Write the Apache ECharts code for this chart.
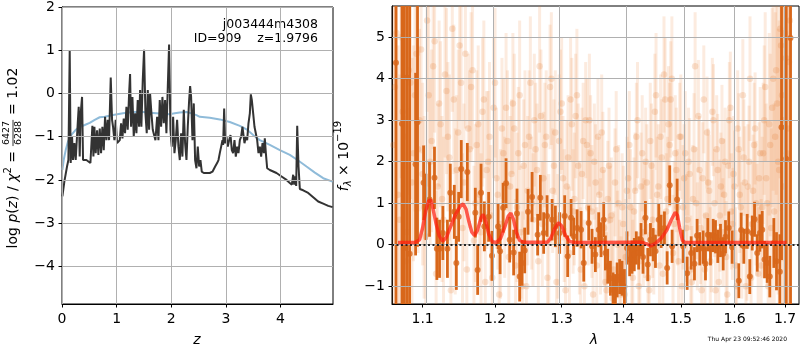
<!DOCTYPE html>
<html>
<head>
<meta charset="utf-8">
<script src="https://cdn.jsdelivr.net/npm/echarts@6/dist/echarts.min.js"></script>
<style>
  html, body { margin: 0; padding: 0; background: #fff; }
  #main { width: 800px; height: 350px; }
</style>
</head>
<body>
<div id="main"></div>
<script>
// ---------- p(z) panel ----------
const pzZ = [0.007,0.043,0.092,0.117,0.141,0.159,0.184,0.202,0.227,0.251,0.288,0.306,0.324,0.342,0.367,0.385,0.446,0.520,0.556,0.575,0.593,0.617,0.642,0.666,0.691,0.715,0.739,0.764,0.788,0.813,0.837,0.861,0.892,0.916,0.934,0.959,0.983,1.008,1.032,1.057,1.081,1.106,1.130,1.154,1.179,1.203,1.228,1.246,1.264,1.289,1.313,1.338,1.362,1.386,1.411,1.429,1.453,1.478,1.502,1.527,1.551,1.570,1.594,1.612,1.637,1.661,1.686,1.710,1.741,1.765,1.789,1.814,1.838,1.863,1.887,1.911,1.936,1.960,1.985,2.009,2.034,2.058,2.082,2.107,2.131,2.156,2.180,2.204,2.229,2.253,2.278,2.302,2.327,2.345,2.363,2.388,2.412,2.436,2.461,2.485,2.510,2.534,2.558,2.595,2.644,2.705,2.754,2.803,2.839,2.864,2.888,2.913,2.937,2.949,2.968,2.986,3.010,3.035,3.059,3.084,3.108,3.132,3.157,3.181,3.206,3.230,3.255,3.279,3.303,3.322,3.340,3.364,3.389,3.413,3.438,3.456,3.474,3.499,3.523,3.547,3.572,3.596,3.621,3.645,3.670,3.694,3.712,3.731,3.755,3.804,3.926,4.018,4.109,4.170,4.207,4.231,4.250,4.268,4.286,4.305,4.329,4.353,4.414,4.506,4.598,4.689,4.781,4.873,4.952];
const pzLog = [-2.38,-2.04,-1.69,-1.54,1.00,-1.61,-1.00,-1.54,-1.15,-1.54,-0.69,-0.31,-1.46,-0.46,-0.08,-1.54,-1.54,-1.61,-0.75,-1.46,-0.77,-1.38,-0.85,-1.42,-0.81,-1.38,-0.77,-1.31,-0.54,-1.08,-0.61,-1.08,0.37,-0.61,-0.77,-1.08,-0.61,-1.15,-1.19,-1.08,-0.69,-1.04,-0.58,-0.92,-0.31,-0.84,0.00,0.45,-0.77,-0.08,-1.00,-0.46,-0.92,-0.15,-0.77,0.08,-0.77,0.31,1.01,-0.46,-0.92,0.08,-0.84,0.00,-0.46,-0.84,-0.84,-1.08,-0.54,-1.08,-0.15,-0.77,-0.08,-0.69,-0.15,-0.92,0.15,1.13,-0.84,-1.23,-0.54,-1.38,-1.08,-0.61,-1.23,-1.54,-0.92,-1.46,-0.38,-1.15,-1.54,-0.77,-0.15,0.17,-0.08,-1.08,-0.23,-1.54,-1.73,-1.23,-1.69,-1.54,-1.81,-1.84,-1.84,-1.84,-1.81,-1.69,-1.61,-1.54,-1.38,-1.23,-1.08,-1.19,-0.35,-1.15,-1.00,-1.23,-1.08,-0.96,-1.31,-1.38,-1.08,-1.46,-1.23,-1.38,-1.08,-1.00,-0.77,-0.73,-1.15,-1.00,-1.08,-0.69,-0.46,-0.02,-0.15,-0.46,-0.77,-0.92,-1.08,-1.38,-1.23,-1.46,-1.15,-1.38,-1.04,-1.38,-1.73,-1.77,-1.84,-1.92,-2.00,-2.07,-2.11,-1.88,-2.11,-1.92,-2.14,-0.75,-1.69,-2.21,-2.24,-2.30,-2.40,-2.50,-2.55,-2.60,-2.63];
const priorZ = [0.007,0.031,0.068,0.110,0.171,0.251,0.324,0.416,0.507,0.599,0.690,0.782,0.934,1.117,1.301,1.484,1.667,1.850,1.972,2.064,2.156,2.278,2.369,2.461,2.522,2.705,2.888,3.071,3.255,3.377,3.499,3.621,3.804,3.987,4.170,4.323,4.475,4.628,4.781,4.952];
const priorLog = [-1.77,-1.54,-1.31,-1.11,-0.96,-0.84,-0.78,-0.73,-0.68,-0.61,-0.55,-0.54,-0.50,-0.46,-0.43,-0.43,-0.45,-0.47,-0.48,-0.46,-0.44,-0.43,-0.46,-0.50,-0.54,-0.56,-0.60,-0.66,-0.75,-0.83,-0.96,-1.08,-1.19,-1.31,-1.42,-1.55,-1.69,-1.83,-1.96,-2.04];
const zTicks = [0, 1, 2, 3, 4];
const pzTicks = [-4, -3, -2, -1, 0, 1, 2];

// ---------- spectrum panel ----------
// binned spectrum: wavelength (micron), flux, 1-sigma
const binLam = [1.0654,1.0731,1.0761,1.0796,1.0830,1.0908,1.0933,1.1013,1.1044,1.1092,1.1158,1.1190,1.1226,1.1271,1.1333,1.1372,1.1427,1.1455,1.1487,1.1523,1.1607,1.1719,1.1752,1.1800,1.1847,1.1908,1.1956,1.2044,1.2073,1.2117,1.2160,1.2213,1.2271,1.2321,1.2360,1.2396,1.2435,1.2485,1.2546,1.2630,1.2671,1.2722,1.2774,1.2851,1.2902,1.2969,1.3047,1.3094,1.3148,1.3189,1.3243,1.3307,1.3349,1.3429,1.3483,1.3537,1.3591,1.3630,1.3673,1.3701,1.3739,1.3784,1.3829,1.3867,1.3895,1.3938,1.3978,1.4017,1.4062,1.4106,1.4146,1.4185,1.4219,1.4259,1.4300,1.4334,1.4376,1.4416,1.4463,1.4510,1.4550,1.4608,1.4650,1.4708,1.4756,1.4802,1.4844,1.4934,1.5043,1.5115,1.5188,1.5248,1.5297,1.5345,1.5408,1.5451,1.5494,1.5544,1.5595,1.5638,1.5681,1.5732,1.5783,1.5827,1.5890,1.5954,1.6082,1.6128,1.6179,1.6245,1.6296,1.6343,1.6389,1.6442,1.6494,1.6541,1.6587,1.6640,1.6692,1.6773,1.6827,1.6895,1.6929,1.7024,1.7113];
const binFlux = [4.38,2.91,-0.08,4.03,-0.22,1.94,2.95,1.49,0.91,1.09,1.61,-0.10,-0.10,0.28,-0.10,1.25,0.79,-0.44,0.67,1.82,1.75,0.77,-0.61,1.25,0.44,0.67,-0.27,0.44,-0.16,0.89,1.48,0.12,-0.19,0.75,-0.77,-0.44,-0.14,0.79,1.15,0.24,1.13,0.28,0.69,0.60,0.44,0.28,0.69,-0.28,0.65,0.20,0.40,0.36,-0.44,0.52,-0.04,-0.24,0.36,0.12,0.60,-0.20,-0.52,-0.81,-1.09,-1.13,-0.85,-0.77,-0.81,-1.01,-0.08,-0.36,-0.30,-0.24,-0.08,-0.20,0.12,-0.30,0.65,-0.48,0.12,0.00,-0.16,0.60,0.32,0.40,-0.56,1.43,-0.04,1.09,-0.04,-0.69,-0.20,-0.46,0.22,-0.10,-0.06,-0.46,0.24,-0.10,0.22,0.19,-0.04,0.10,-0.22,0.19,0.40,-0.06,-0.87,0.35,-0.04,0.32,-0.77,0.28,0.61,-0.20,0.28,0.36,-0.36,-0.44,-0.77,0.04,-0.40,-0.65,2.83,2.07,4.98];
const binErr = [9,9,9,9,9,2.2,3.0,0.9,0.8,0.9,0.75,0.75,0.7,0.65,0.7,0.7,0.65,0.65,0.6,0.7,0.7,0.6,0.6,0.7,0.6,0.6,0.6,0.55,0.55,0.6,0.6,0.55,0.55,0.6,0.6,0.55,0.55,0.55,0.6,0.5,0.55,0.5,0.5,0.5,0.5,0.5,0.5,0.5,0.45,0.45,0.45,0.45,0.45,0.42,0.42,0.42,0.42,0.42,0.42,0.42,0.42,0.42,0.42,0.42,0.42,0.42,0.42,0.42,0.4,0.4,0.4,0.4,0.4,0.4,0.4,0.4,0.4,0.4,0.4,0.4,0.4,0.4,0.4,0.4,0.4,0.48,0.4,0.5,0.4,0.4,0.4,0.4,0.4,0.4,0.4,0.4,0.4,0.4,0.4,0.4,0.4,0.4,0.4,0.4,0.4,0.4,0.42,0.42,0.42,0.42,0.42,0.42,0.42,0.45,0.45,0.45,0.45,0.48,0.5,0.6,0.7,0.9,3.2,4.0,9];

// unbinned pixels, first beam: wavelength, flux, 1-sigma
const pixLam = [1.062,1.066,1.070,1.074,1.078,1.082,1.086,1.090,1.094,1.098,1.102,1.106,1.110,1.114,1.118,1.122,1.126,1.130,1.134,1.138,1.142,1.146,1.150,1.154,1.158,1.162,1.166,1.170,1.174,1.178,1.182,1.186,1.190,1.194,1.198,1.202,1.206,1.210,1.214,1.218,1.222,1.226,1.230,1.234,1.238,1.242,1.246,1.250,1.254,1.258,1.262,1.266,1.270,1.274,1.278,1.282,1.286,1.290,1.294,1.298,1.302,1.306,1.310,1.314,1.318,1.322,1.326,1.330,1.334,1.338,1.342,1.346,1.350,1.354,1.358,1.362,1.366,1.370,1.374,1.378,1.382,1.386,1.390,1.394,1.398,1.402,1.406,1.410,1.414,1.418,1.422,1.426,1.430,1.434,1.438,1.442,1.446,1.450,1.454,1.458,1.462,1.466,1.470,1.474,1.478,1.482,1.486,1.490,1.494,1.498,1.502,1.506,1.510,1.514,1.518,1.522,1.526,1.530,1.534,1.538,1.542,1.546,1.550,1.554,1.558,1.562,1.566,1.570,1.574,1.578,1.582,1.586,1.590,1.594,1.598,1.602,1.606,1.610,1.614,1.618,1.622,1.626,1.630,1.634,1.638,1.642,1.646,1.650,1.654,1.658,1.662,1.666,1.670,1.674,1.678,1.682,1.686,1.690,1.694,1.698,1.702,1.706,1.710];
const pixFlux = [2.4,5.1,0.6,3.2,-0.4,4.2,1.5,3.6,2.3,4.7,0.9,5.4,2.0,4.3,-0.7,3.4,1.1,4.1,2.6,-1.1,3.5,1.8,4.8,0.4,4.6,2.8,3.8,0.1,2.4,1.2,3.2,-0.9,2.0,0.7,3.3,1.6,-1.2,2.8,0.9,2.5,1.4,3.4,-0.5,2.2,0.3,1.9,-1.0,2.6,1.0,3.0,1.8,4.3,0.5,2.4,-0.8,3.8,1.3,2.7,0.2,3.2,1.6,-1.1,2.1,3.5,0.8,3.1,1.9,-0.6,2.5,3.0,0.9,2.2,-1.2,1.5,2.6,0.2,1.8,-0.9,1.1,0.6,-1.3,1.5,0.0,-0.7,0.9,-1.2,1.3,2.4,-0.3,0.8,2.6,-1.0,1.4,0.3,2.0,-0.8,2.5,0.6,3.2,1.2,-0.5,2.1,4.1,0.8,2.9,3.5,-0.2,2.2,0.9,2.6,-1.0,1.6,0.4,2.0,-0.6,1.1,4.3,0.2,1.8,-1.1,3.5,0.7,1.5,-0.4,3.2,1.0,2.3,-0.9,1.4,0.3,2.0,-1.2,3.0,0.8,1.7,-0.5,2.8,1.2,0.1,2.1,-1.0,1.4,4.0,0.5,2.4,1.0,-0.7,2.2,0.9,3.0,1.6,-1.0,2.4,3.3,0.8,4.2,2.0,5.2,3.6,1.4,4.5,2.8,5.4];
const pixErr = [4.0,4.0,3.5,3.5,3.5,3.0,3.0,2.8,2.5,2.5,2.2,2.2,2.0,2.0,2.0,2.0,2.0,2.0,1.8,1.8,1.8,1.8,1.8,1.8,1.8,1.8,1.8,1.8,1.8,1.8,1.8,1.7,1.7,1.7,1.7,1.7,1.7,1.7,1.7,1.7,1.7,1.7,1.6,1.6,1.6,1.6,1.6,1.6,1.6,1.6,1.6,1.6,1.5,1.5,1.5,1.5,1.5,1.5,1.5,1.5,1.5,1.5,1.5,1.5,1.5,1.5,1.5,1.5,1.4,1.4,1.4,1.4,1.4,1.4,1.4,1.4,1.4,1.4,1.4,1.3,1.3,1.3,1.3,1.3,1.3,1.3,1.3,1.3,1.3,1.3,1.3,1.3,1.3,1.3,1.3,1.3,1.4,1.4,1.4,1.4,1.4,1.4,1.4,1.4,1.4,1.4,1.4,1.4,1.4,1.3,1.3,1.3,1.3,1.3,1.3,1.3,1.3,1.3,1.3,1.3,1.3,1.3,1.3,1.3,1.3,1.3,1.3,1.3,1.3,1.3,1.3,1.3,1.4,1.4,1.4,1.4,1.4,1.4,1.4,1.4,1.4,1.5,1.5,1.5,1.5,1.5,1.6,1.6,1.7,1.8,1.8,2.0,2.2,2.4,2.6,3.0,3.2,3.6,4.0,4.5,5.0,5.0,6.0];

// unbinned pixels, second beam
const pix2Lam = [1.064,1.068,1.072,1.076,1.080,1.084,1.088,1.092,1.096,1.100,1.104,1.108,1.112,1.116,1.120,1.124,1.128,1.132,1.136,1.140,1.144,1.148,1.152,1.156,1.160,1.164,1.168,1.172,1.176,1.180,1.184,1.188,1.192,1.196,1.200,1.204,1.208,1.212,1.216,1.220,1.224,1.228,1.232,1.236,1.240,1.244,1.248,1.252,1.256,1.260,1.264,1.268,1.272,1.276,1.280,1.284,1.288,1.292,1.296,1.300,1.304,1.308,1.312,1.316,1.320,1.324,1.328,1.332,1.336,1.340,1.344,1.348,1.352,1.356,1.360,1.364,1.368,1.372,1.376,1.380,1.384,1.388,1.392,1.396,1.400,1.404,1.408,1.412,1.416,1.420,1.424,1.428,1.432,1.436,1.440,1.444,1.448,1.452,1.456,1.460,1.464,1.468,1.472,1.476,1.480,1.484,1.488,1.492,1.496,1.500,1.504,1.508,1.512,1.516,1.520,1.524,1.528,1.532,1.536,1.540,1.544,1.548,1.552,1.556,1.560,1.564,1.568,1.572,1.576,1.580,1.584,1.588,1.592,1.596,1.600,1.604,1.608,1.612,1.616,1.620,1.624,1.628,1.632,1.636,1.640,1.644,1.648,1.652,1.656,1.660,1.664,1.668,1.672,1.676,1.680,1.684,1.688,1.692,1.696,1.700,1.704,1.708];
const pix2Flux = [3.8,1.2,5.0,2.6,0.3,3.9,2.2,4.6,3.0,1.7,0.2,3.6,2.5,4.9,1.4,2.9,0.6,3.7,2.1,5.2,0.8,2.7,3.9,1.5,-0.6,2.3,4.2,1.0,2.9,0.3,3.5,1.8,2.6,-0.8,3.9,1.2,0.5,2.2,3.3,-0.3,1.7,2.8,0.9,3.6,-1.0,2.4,1.3,3.9,0.6,2.3,-0.4,3.1,1.6,2.6,0.1,4.0,1.9,-0.9,2.5,3.4,0.7,1.4,-0.2,2.9,1.1,3.6,0.4,1.7,-1.0,2.4,3.0,0.8,2.0,-0.5,1.2,2.7,0.4,-1.1,1.9,0.7,-0.6,2.3,1.0,-1.2,0.5,-0.3,1.6,0.9,-0.8,1.3,3.0,-0.4,2.2,0.6,1.5,-1.1,1.9,0.3,3.6,1.4,2.6,-0.7,3.5,1.1,2.4,4.0,0.5,1.8,-0.4,2.6,0.9,2.2,0.6,1.7,-0.9,2.3,1.0,3.1,0.4,1.6,-0.6,2.7,1.3,0.2,3.0,-1.1,1.8,0.7,2.5,1.2,-0.3,1.9,3.3,0.5,1.4,-1.0,2.3,0.9,3.6,1.5,0.0,2.0,-0.8,1.3,2.8,0.6,1.6,-0.5,2.2,3.8,1.0,2.9,0.4,4.0,2.6,3.4,1.8,4.8,3.0,5.1,2.2,4.4];
const pix2Err = [3.8,3.6,3.4,3.2,3.0,2.8,2.6,2.4,2.2,2.2,2.2,2.2,2.2,2.2,2.0,2.0,2.0,2.0,2.0,2.0,2.0,2.0,1.9,1.9,1.9,1.9,1.9,1.9,1.9,1.9,1.9,1.9,1.8,1.8,1.8,1.8,1.8,1.8,1.8,1.8,1.8,1.8,1.8,1.8,1.8,1.8,1.8,1.6,1.6,1.6,1.6,1.6,1.6,1.6,1.6,1.6,1.6,1.6,1.6,1.6,1.6,1.6,1.6,1.6,1.6,1.6,1.6,1.6,1.6,1.6,1.6,1.6,1.4,1.4,1.4,1.4,1.4,1.4,1.4,1.4,1.4,1.4,1.4,1.4,1.4,1.4,1.4,1.4,1.4,1.4,1.4,1.4,1.4,1.4,1.4,1.4,1.5,1.5,1.5,1.5,1.5,1.5,1.5,1.5,1.5,1.5,1.5,1.5,1.5,1.5,1.5,1.5,1.35,1.35,1.35,1.35,1.35,1.35,1.35,1.35,1.35,1.35,1.35,1.35,1.35,1.35,1.35,1.35,1.35,1.35,1.35,1.35,1.35,1.35,1.35,1.35,1.35,1.35,1.35,1.35,1.35,1.35,1.35,1.35,1.35,1.35,1.35,1.6,1.7,1.8,2.0,2.2,2.4,2.7,3.0,3.3,3.6,4.0,4.5,5.0,5.5,6.0];

// best-fit model
const modelLam = [1.068,1.090,1.096,1.100,1.104,1.108,1.111,1.114,1.118,1.122,1.127,1.132,1.138,1.145,1.151,1.155,1.159,1.163,1.167,1.171,1.175,1.180,1.183,1.187,1.191,1.196,1.202,1.208,1.214,1.219,1.223,1.227,1.231,1.236,1.242,1.278,1.283,1.289,1.295,1.300,1.306,1.312,1.320,1.430,1.440,1.447,1.455,1.465,1.475,1.483,1.490,1.494,1.498,1.503,1.508,1.703];
const modelFlux = [0.05,0.05,0.12,0.40,0.80,1.05,1.08,0.85,0.50,0.22,0.08,0.18,0.45,0.75,0.93,0.98,0.85,0.55,0.30,0.22,0.35,0.65,0.73,0.55,0.25,0.07,0.05,0.15,0.42,0.68,0.76,0.60,0.30,0.10,0.06,0.06,0.15,0.38,0.53,0.45,0.22,0.08,0.05,0.06,0.02,-0.03,0.03,0.15,0.35,0.60,0.78,0.70,0.40,0.10,0.05,0.05];

const lamTicks = [1.1, 1.2, 1.3, 1.4, 1.5, 1.6, 1.7];
const fluxTicks = [-1, 0, 1, 2, 3, 4, 5];

// axis limits
const zMin = 0, zMax = 4.96, pzMin = -4.87, pzMax = 2;
const lamMin = 1.0603, lamMax = 1.7288, fluxMin = -1.43, fluxMax = 5.75;

const FONT = 'DejaVu Sans';
const ORANGE = '#d8671a';
const FADED_BAR = 'rgba(232,122,42,0.15)';
const FADED_DOT = 'rgba(226,116,36,0.24)';
const fmtNum = v => { const r = Math.round(v); return r < 0 ? '\u2212' + Math.abs(r) : String(r); };

// the spectrum x axis is logarithmic in wavelength
const lnl = Math.log;

function errBarRenderer(stroke, width) {
  return function (params, api) {
    const x = api.value(0), y = api.value(1), e = api.value(2);
    const lo = Math.max(y - e, fluxMin), hi = Math.min(y + e, fluxMax);
    if (lo >= hi) return null;
    const p0 = api.coord([x, lo]), p1 = api.coord([x, hi]);
    return { type: 'line', shape: { x1: p0[0], y1: p0[1], x2: p1[0], y2: p1[1] },
             style: { stroke: stroke, lineWidth: width } };
  };
}

// reference lines (grid) drawn through the axes' own scales
function gridLines(idx, xs, ys) {
  return { type: 'line', xAxisIndex: idx, yAxisIndex: idx, z: 0, silent: true, data: [],
    markLine: { silent: true, symbol: ['none', 'none'], label: { show: false }, animation: false,
      emphasis: { disabled: true },
      lineStyle: { color: '#b0b0b0', width: 1, type: 'solid' },
      data: xs.map(v => ({ xAxis: v })).concat(ys.map(v => ({ yAxis: v }))) } };
}

// rotated mathtext-like labels assembled from pieces
const mctx = document.createElement('canvas').getContext('2d');
function textW(t, size, italic) {
  mctx.font = (italic ? 'italic ' : '') + size + 'px "' + FONT + '"';
  return mctx.measureText(t).width;
}
function piece(t, x, y, size, italic, align) {
  return { type: 'text', x: x, y: y, silent: true,
    style: { text: t, fontSize: size, fontFamily: FONT, fontStyle: italic ? 'italic' : 'normal',
             fill: '#000', align: align || 'left', textAlign: align || 'left',
             verticalAlign: 'middle', textVerticalAlign: 'middle' } };
}
function mathLabel(parts, cx, cy, rot) {
  let total = 0;
  parts.forEach(p => {
    if (p.frac) {
      p.w = Math.max(textW(p.frac[0], p.size), textW(p.frac[1], p.size)) + 3;
    } else {
      p.w = textW(p.t, p.size, p.italic);
    }
    total += p.w;
  });
  let x = -total / 2;
  const children = [];
  parts.forEach(p => {
    if (p.frac) {
      const mid = x + p.w / 2;
      children.push(piece(p.frac[0], mid, -6, p.size, false, 'center'));
      children.push(piece(p.frac[1], mid, 6, p.size, false, 'center'));
      children.push({ type: 'line', silent: true, shape: { x1: x + 0.5, y1: 0, x2: x + p.w - 0.5, y2: 0 },
                      style: { stroke: '#000', lineWidth: 0.8 } });
    } else {
      children.push(piece(p.t, x, p.dy || 0, p.size, p.italic, 'left'));
    }
    x += p.w;
  });
  return { type: 'group', x: cx, y: cy, rotation: rot, children: children };
}

const leftLabel = mathLabel([
  { t: 'log ', size: 14 }, { t: 'p', size: 14, italic: true }, { t: '(', size: 14 },
  { t: 'z', size: 14, italic: true }, { t: ')', size: 14 }, { t: ' / ', size: 14 },
  { t: '\u03c7', size: 14, italic: true }, { t: '2', size: 10, dy: -5 },
  { t: ' = ', size: 14 }, { frac: ['6427', '6288'], size: 9.5 }, { t: ' = 1.02', size: 14 }
], 13, 158, Math.PI / 2);

const rightLabel = mathLabel([
  { t: 'f', size: 14, italic: true }, { t: '\u03bb', size: 10, italic: true, dy: 4 },
  { t: ' \u00d7 10', size: 14 }, { t: '\u221219', size: 10, dy: -5.5 }
], 344, 156, Math.PI / 2);

const tickStyle = { show: true, length: 3.5, lineStyle: { color: '#000', width: 1 } };
const axisLine = { show: true, onZero: false, lineStyle: { color: '#000', width: 1 } };
const labelStyle = { color: '#000', fontSize: 14, fontFamily: FONT };

const option = {
  animation: false,
  textStyle: { fontFamily: FONT },
  grid: [
    { left: 62, top: 6, width: 271, height: 298, show: true, borderColor: '#000', borderWidth: 1, backgroundColor: 'transparent' },
    { left: 392, top: 6, width: 407, height: 298, show: true, borderColor: '#000', borderWidth: 1, backgroundColor: 'transparent' }
  ],
  xAxis: [
    { gridIndex: 0, type: 'value', min: zMin, max: zMax,
      axisLine: axisLine, axisTick: Object.assign({ customValues: zTicks }, tickStyle),
      axisLabel: Object.assign({ customValues: zTicks, margin: 8, formatter: fmtNum }, labelStyle),
      splitLine: { show: false } },
    { gridIndex: 1, type: 'value', min: lnl(lamMin), max: lnl(lamMax),
      axisLine: axisLine, axisTick: Object.assign({ customValues: lamTicks.map(lnl) }, tickStyle),
      axisLabel: Object.assign({ customValues: lamTicks.map(lnl), margin: 8,
        formatter: v => Math.exp(v).toFixed(1) }, labelStyle),
      splitLine: { show: false } }
  ],
  yAxis: [
    { gridIndex: 0, type: 'value', min: pzMin, max: pzMax,
      axisLine: axisLine, axisTick: Object.assign({ customValues: pzTicks }, tickStyle),
      axisLabel: Object.assign({ customValues: pzTicks, margin: 7, formatter: fmtNum }, labelStyle),
      splitLine: { show: false } },
    { gridIndex: 1, type: 'value', min: fluxMin, max: fluxMax,
      axisLine: axisLine, axisTick: Object.assign({ customValues: fluxTicks }, tickStyle),
      axisLabel: Object.assign({ customValues: fluxTicks, margin: 7, formatter: fmtNum }, labelStyle),
      splitLine: { show: false } }
  ],
  series: [
    gridLines(0, zTicks, pzTicks),
    gridLines(1, lamTicks.map(lnl), fluxTicks),

    { type: 'line', xAxisIndex: 0, yAxisIndex: 0, z: 2, showSymbol: false, silent: true,
      data: priorZ.map((z, i) => [z, priorLog[i]]),
      lineStyle: { color: '#8fbbd9', width: 2 } },
    { type: 'line', xAxisIndex: 0, yAxisIndex: 0, z: 3, showSymbol: false, silent: true,
      data: pzZ.map((z, i) => [z, pzLog[i]]),
      lineStyle: { color: '#333333', width: 2 } },

    { type: 'custom', xAxisIndex: 1, yAxisIndex: 1, z: 1, silent: true,
      data: pixLam.map((l, i) => [lnl(l), pixFlux[i], pixErr[i]]),
      encode: { x: 0, y: 1 },
      renderItem: errBarRenderer(FADED_BAR, 3) },
    { type: 'custom', xAxisIndex: 1, yAxisIndex: 1, z: 1, silent: true,
      data: pix2Lam.map((l, i) => [lnl(l), pix2Flux[i], pix2Err[i]]),
      encode: { x: 0, y: 1 },
      renderItem: errBarRenderer(FADED_BAR, 3) },
    { type: 'scatter', xAxisIndex: 1, yAxisIndex: 1, z: 2, silent: true, symbolSize: 6.5,
      data: pixLam.map((l, i) => [lnl(l), pixFlux[i]]),
      itemStyle: { color: FADED_DOT } },
    { type: 'scatter', xAxisIndex: 1, yAxisIndex: 1, z: 2, silent: true, symbolSize: 6.5,
      data: pix2Lam.map((l, i) => [lnl(l), pix2Flux[i]]),
      itemStyle: { color: FADED_DOT } },

    { type: 'custom', xAxisIndex: 1, yAxisIndex: 1, z: 3, silent: true,
      data: binLam.map((l, i) => [lnl(l), binFlux[i], binErr[i]]),
      encode: { x: 0, y: 1 },
      renderItem: errBarRenderer(ORANGE, 2.8) },
    { type: 'scatter', xAxisIndex: 1, yAxisIndex: 1, z: 4, silent: true, symbolSize: 6,
      data: binLam.map((l, i) => [lnl(l), binFlux[i]]),
      itemStyle: { color: ORANGE } },

    { type: 'line', xAxisIndex: 1, yAxisIndex: 1, z: 5, showSymbol: false, silent: true,
      data: modelLam.map((l, i) => [lnl(l), modelFlux[i]]),
      lineStyle: { color: 'rgba(255,30,15,0.72)', width: 3.5 } },
    { type: 'line', xAxisIndex: 1, yAxisIndex: 1, z: 6, showSymbol: false, silent: true,
      data: [],
      markLine: { silent: true, symbol: ['none', 'none'], label: { show: false },
        emphasis: { disabled: true },
        lineStyle: { color: '#222', type: [2, 2.5], width: 1.8 },
        data: [{ yAxis: 0 }] } }
  ],
  graphic: [
    piece('j003444m4308', 318, 25, 12.5, false, 'right'),
    piece('ID=909    z=1.9796', 318, 39, 12.5, false, 'right'),
    piece('z', 197, 340, 14, true, 'center'),
    piece('\u03bb', 594, 340, 14, true, 'center'),
    piece('Thu Apr 23 09:52:46 2020', 787, 339, 6, false, 'right'),
    leftLabel,
    rightLabel
  ]
};

const chart = echarts.init(document.getElementById('main'), null, { renderer: 'canvas' });
chart.setOption(option);
</script>
</body>
</html>
